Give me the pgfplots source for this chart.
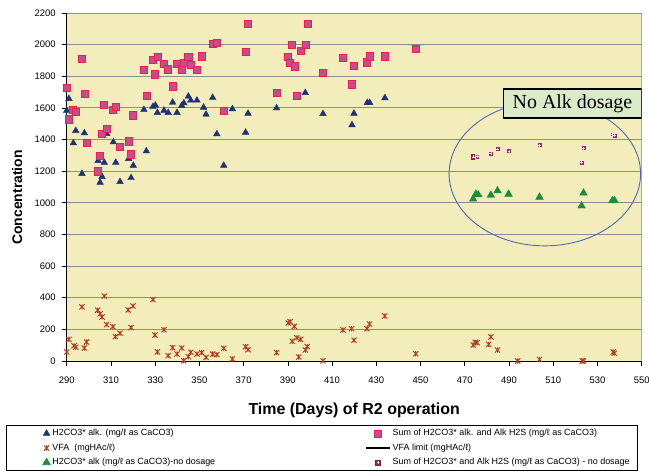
\documentclass[border=0pt]{standalone}
\usepackage{fontspec}
\setmainfont{Liberation Sans}
\newfontfamily\timesfont{Liberation Serif}
\usepackage{pgfplots}
\pgfplotsset{compat=1.18}

\definecolor{navyA}{HTML}{1F3276}
\definecolor{pinkF}{HTML}{C94A8E}
\definecolor{pinkD}{HTML}{E8204A}
\definecolor{vfaC}{HTML}{B23C1E}
\definecolor{greenA}{HTML}{1E8C3C}
\definecolor{sqdark}{HTML}{A32848}
\definecolor{bgyel}{HTML}{F3ECBB}
\definecolor{gridc}{HTML}{8E8E8E}
\definecolor{ellc}{HTML}{4D6BB5}
\definecolor{boxg}{HTML}{DAEBC9}

% Excel-like star: X with a vertical stroke
\pgfdeclareplotmark{xstar}{%
  \pgfpathmoveto{\pgfqpoint{-\pgfplotmarksize}{-\pgfplotmarksize}}%
  \pgfpathlineto{\pgfqpoint{\pgfplotmarksize}{\pgfplotmarksize}}%
  \pgfpathmoveto{\pgfqpoint{-\pgfplotmarksize}{\pgfplotmarksize}}%
  \pgfpathlineto{\pgfqpoint{\pgfplotmarksize}{-\pgfplotmarksize}}%
  \pgfpathmoveto{\pgfqpoint{0pt}{-\pgfplotmarksize}}%
  \pgfpathlineto{\pgfqpoint{0pt}{\pgfplotmarksize}}%
  \pgfusepathqstroke}
% small filled square with a light cross
\pgfdeclareplotmark{sqcross}{%
  \pgfpathrectangle{\pgfqpoint{-\pgfplotmarksize}{-\pgfplotmarksize}}{\pgfqpoint{2\pgfplotmarksize}{2\pgfplotmarksize}}%
  \pgfusepathqfillstroke
  \pgfsetstrokecolor{pink!50!white}\pgfsetlinewidth{0.5bp}%
  \pgfpathmoveto{\pgfqpoint{-0.6\pgfplotmarksize}{0pt}}\pgfpathlineto{\pgfqpoint{0.6\pgfplotmarksize}{0pt}}%
  \pgfpathmoveto{\pgfqpoint{0pt}{-0.6\pgfplotmarksize}}\pgfpathlineto{\pgfqpoint{0pt}{0.6\pgfplotmarksize}}%
  \pgfusepathqstroke}

\newcommand\legL[1]{\makebox[289bp][l]{#1}}
\newcommand\legR[1]{\makebox[237bp][l]{#1}}

\begin{document}
\begin{tikzpicture}
\useasboundingbox (0,0) rectangle (649bp,473bp);
\begin{axis}[
  at={(66.7bp,112bp)}, anchor=south west,
  scale only axis, width=575bp, height=348bp,
  xmin=290, xmax=550, ymin=0, ymax=2200,
  xtick={290,310,...,550}, ytick={0,200,...,2200},
  axis x line*=bottom, axis y line*=left,
  axis line style={-, black, line width=0.9bp},
  tick align=outside, major tick length=4.5bp,
  tick style={black, line width=0.7bp},
  ymajorgrids, grid style={gridc, line width=0.9bp},
  axis background/.style={fill=bgyel},
  /pgf/number format/.cd, 1000 sep={}, assume math mode=true, /pgfplots/.cd,
  ticklabel style={font=\fontsize{9.5}{11}\selectfont},
  xticklabel style={yshift=-8bp},
  yticklabel style={xshift=-3bp},
  xlabel={Time (Days) of R2 operation},
  ylabel={Concentration},
  xlabel style={font=\bfseries\fontsize{16}{18}\selectfont, at={(axis description cs:0.5,-0.1408)}, anchor=center},
  ylabel style={font=\bfseries\fontsize{14}{16}\selectfont, at={(axis description cs:-0.0864,0.47)}, anchor=center},
  legend columns=2,
  legend image code/.code={\path (-22bp,0bp); \draw[mark repeat=2, mark phase=2, #1] plot coordinates {(0bp,0bp) (12bp,0bp) (24bp,0bp)};},
  legend style={at={(axis description cs:-0.1056,-0.1839)}, anchor=north west,
    draw=black, line width=0.6bp, fill=white,
    inner xsep=6bp, inner ysep=2bp,
    font=\fontsize{9}{10}\selectfont,
    cells={anchor=west},
    nodes={inner sep=2bp, text height=6.5bp, text depth=2bp},
    row sep=2bp},
]
% H2CO3* alkalinity
\addplot[only marks, mark=triangle*, mark size=3.8bp, mark options={fill=navyA, draw=navyA}] table {
290.0 1584
291.0 1658
293.0 1378
294.1 1456
296.9 1184
298.0 1441
304.2 1266
305.1 1129
306.0 1165
307.0 1255
308.1 1437
311.1 1384
312.2 1255
314.1 1133
318.0 1279
319.1 1158
320.1 1236
324.9 1589
326.0 1327
329.0 1608
330.1 1616
331.0 1570
334.0 1584
335.9 1570
337.9 1635
339.9 1570
342.0 1614
343.0 1631
345.0 1673
346.1 1648
348.9 1648
351.9 1603
353.0 1559
356.0 1665
357.9 1435
361.0 1236
364.9 1593
370.9 1445
372.0 1565
384.9 1599
397.9 1696
405.9 1563
419.0 1492
419.9 1565
425.9 1633
427.0 1633
433.9 1663
};
\addlegendentry{\legL{H2CO3* alk. (mg/ℓ as CaCO3)}}
% sum of H2CO3* and H2S alkalinity
\addplot[only marks, mark=square*, mark size=3.6bp, mark options={fill=pinkF, draw=pinkD, line width=0.8bp}] table {
290.0 1728
291.0 1527
292.7 1589
294.1 1576
296.9 1912
298.1 1690
299.0 1380
304.2 1198
305.1 1298
305.8 1437
307.0 1620
308.1 1467
310.8 1589
312.2 1608
314.1 1355
318.0 1388
319.1 1306
320.0 1553
324.8 1842
326.2 1677
329.0 1905
329.9 1812
331.1 1920
334.0 1878
335.9 1844
337.9 1736
339.9 1876
342.0 1844
343.0 1886
345.0 1924
346.1 1874
348.9 1840
351.0 1926
356.0 2007
357.9 2013
361.0 1583
370.9 1956
372.0 2133
384.9 1694
389.9 1922
390.8 1884
391.7 1998
393.1 1863
394.0 1677
395.8 1960
398.0 1998
399.0 2129
405.7 1821
414.9 1914
418.8 1749
419.9 1867
425.8 1888
427.0 1926
433.8 1926
447.8 1975
};
\addlegendentry{\legR{Sum of H2CO3* alk. and Alk H2S (mg/ℓ as CaCO3)}}
% VFA
\addplot[only marks, mark=xstar, mark size=2.6bp, mark options={draw=vfaC, line width=0.9bp}] table {
290.0 57
291.0 137
293.3 97
294.1 87
296.9 342
298.0 82
299.0 120
304.0 321
305.1 298
306.0 278
307.0 410
308.1 230
310.9 217
312.0 154
314.1 175
317.8 323
320.0 348
319.1 211
329.0 388
329.9 164
331.0 57
334.0 198
335.9 34
337.9 84
339.9 44
342.0 82
342.9 2
345.0 27
346.1 55
348.9 44
351.0 53
353.0 23
356.0 44
357.9 40
361.0 80
364.9 13
370.9 90
372.0 72
384.9 53
390.2 240
391.0 249
392.9 219
392.0 125
394.0 147
395.8 137
398.8 91
397.9 70
394.9 25
405.9 2
414.9 196
418.8 204
419.9 131
425.8 204
426.9 234
433.8 285
447.8 46
473.8 101
474.7 118
475.6 116
480.8 105
481.8 152
484.8 70
493.9 0
503.8 10
523.1 0
523.7 0
537.1 57
537.6 49
};
\addlegendentry{\legL{VFA\ \ (mgHAc/ℓ)}}
\addlegendimage{black, line width=1.2bp, mark=none}
\addlegendentry{\legR{VFA limit (mgHAc/ℓ)}}
% no dosage period
\addplot[only marks, mark=triangle*, mark size=4.4bp, mark options={fill=greenA, draw=greenA}] table {
473.8 1024
475.0 1055
476.1 1051
481.8 1049
484.8 1076
489.8 1055
503.8 1036
523.7 1062
522.8 981
536.7 1013
537.7 1015
};
\addlegendentry{\legL{H2CO3* alk (mg/ℓ as CaCO3)-no dosage}}
\addplot[only marks, mark=sqcross, mark size=2.4bp, mark options={fill=sqdark, draw=sqdark!80!black, line width=0.4bp}] table {
473.8 1291
475.6 1293
481.8 1312
484.8 1340
490.0 1327
503.8 1365
523.7 1346
522.8 1255
536.8 1433
537.7 1424
};
\addlegendentry{\legR{Sum of H2CO3* and Alk H2S (mg/ℓ as CaCO3) - no dosage}}
\draw[gridc, line width=0.9bp] (rel axis cs:1,0) -- (rel axis cs:1,1);
\draw[ellc, line width=0.9bp] (axis cs:506.2,1184) ellipse [x radius=43.3, y radius=456];
\node[draw=black, line width=1.2bp, fill=boxg, minimum width=138bp, minimum height=29bp, inner sep=0pt,
  font=\timesfont\fontsize{20}{24}\selectfont] at (axis cs:518.7,1628) {No Alk dosage};
\end{axis}
\end{tikzpicture}
\end{document}
